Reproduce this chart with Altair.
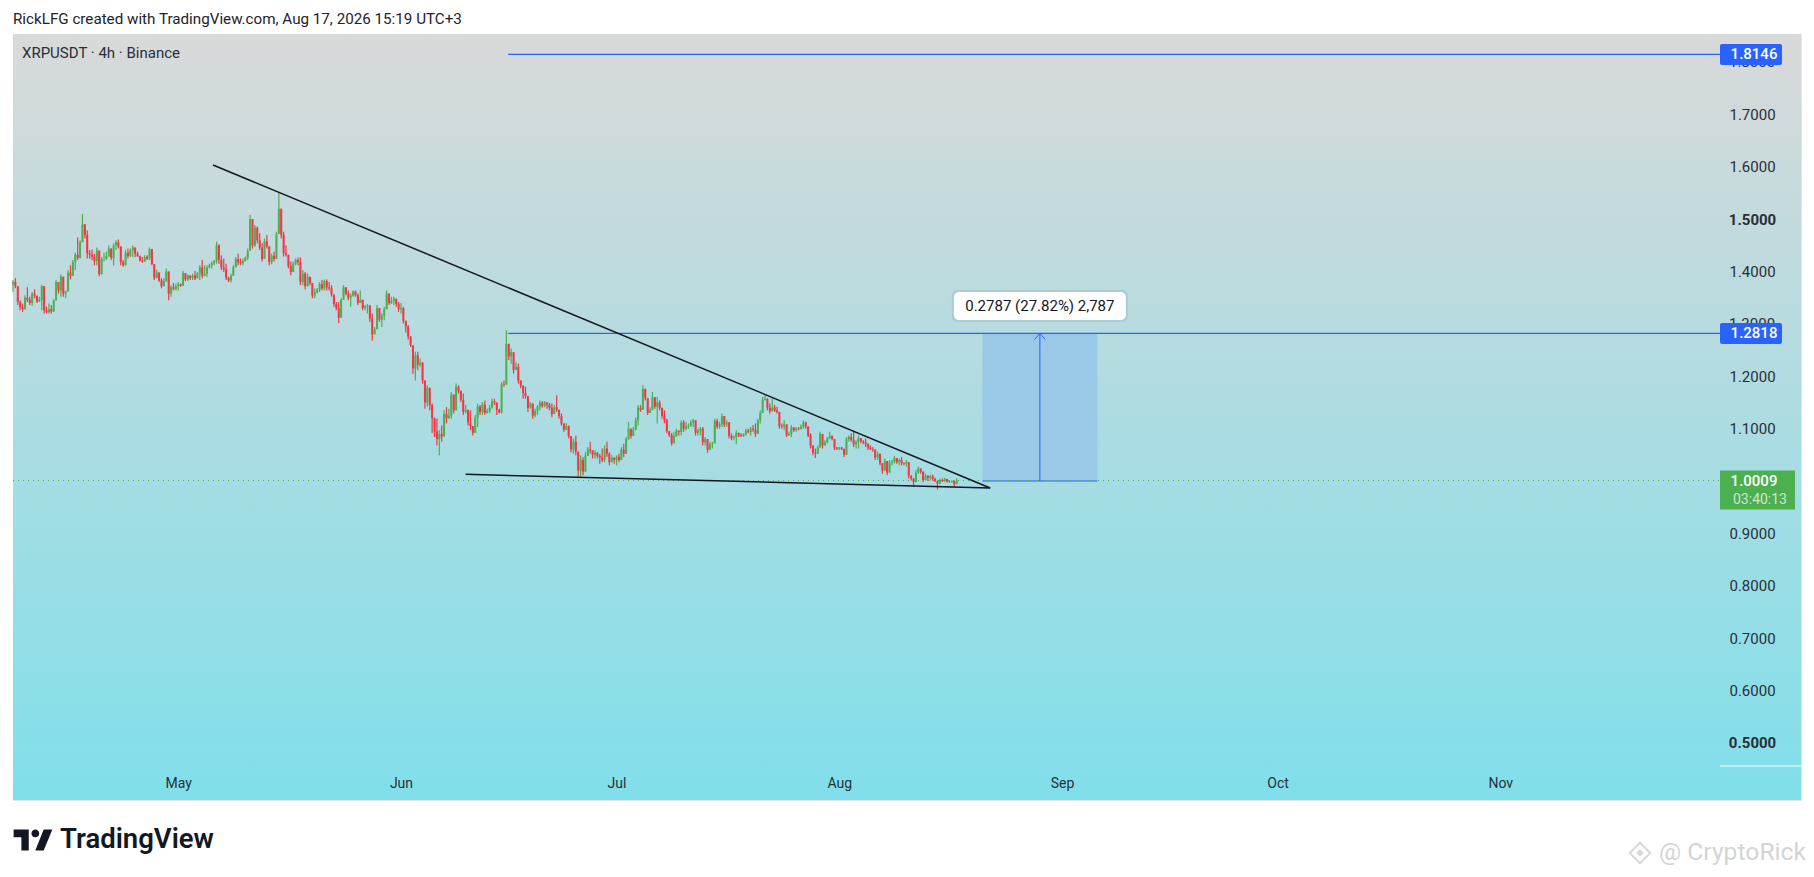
import altair as alt
import pandas as pd

closes = [
1380,1372,1342,1332,1328,1350,1346,1340,1358,1354,
1343,1346,1372,1326,1322,1328,1324,1345,1380,1364,
1390,1358,1362,1398,1392,1418,1432,1426,1456,1490,
1470,1435,1432,1428,1420,1440,1395,1424,1424,1430,
1444,1426,1450,1456,1448,1418,1412,1436,1430,1440,
1446,1434,1430,1421,1419,1428,1425,1443,1414,1388,
1398,1383,1372,1382,1400,1358,1370,1367,1372,1376,
1373,1397,1385,1392,1388,1392,1387,1396,1408,1392,
1396,1408,1412,1416,1420,1450,1422,1408,1404,1388,
1383,1392,1408,1424,1418,1416,1420,1426,1440,1500,
1450,1484,1460,1446,1424,1458,1448,1418,1430,1424,
1472,1520,1470,1435,1432,1410,1399,1415,1422,1418,
1380,1396,1372,1390,1378,1354,1360,1365,1376,1368,
1382,1370,1368,1356,1338,1330,1312,1346,1370,1358,
1350,1354,1362,1355,1340,1346,1330,1334,1335,1310,
1280,1290,1330,1308,1316,1328,1358,1340,1344,1348,
1338,1328,1330,1306,1295,1276,1259,1215,1240,1222,
1226,1192,1150,1178,1145,1120,1095,1080,1090,1085,
1128,1120,1125,1165,1135,1180,1172,1155,1132,1136,
1112,1105,1092,1120,1142,1132,1146,1130,1133,1140,
1152,1150,1136,1131,1185,1184,1262,1238,1246,1212,
1218,1192,1182,1168,1162,1140,1148,1125,1134,1142,
1150,1143,1150,1146,1140,1128,1141,1136,1124,1110,
1098,1105,1086,1060,1075,1056,1020,1040,1018,1048,
1060,1058,1050,1054,1048,1045,1040,1062,1052,1036,
1044,1040,1046,1040,1060,1052,1080,1100,1086,1098,
1116,1140,1136,1176,1158,1130,1136,1160,1142,1150,
1140,1124,1116,1095,1088,1072,1086,1096,1094,1112,
1100,1104,1106,1112,1116,1092,1096,1100,1074,1080,
1060,1070,1072,1115,1104,1108,1124,1108,1112,1086,
1082,1084,1092,1087,1086,1089,1096,1094,1100,1098,
1090,1116,1130,1155,1157,1140,1133,1140,1135,1132,
1105,1104,1108,1087,1090,1102,1097,1100,1099,1104,
1112,1104,1087,1068,1054,1052,1064,1090,1068,1074,
1081,1086,1080,1064,1062,1064,1061,1050,1080,1084,
1078,1070,1075,1082,1076,1074,1070,1064,1061,1060,
1045,1052,1034,1020,1038,1016,1035,1037,1044,1036,
1040,1034,1033,1036,1010,1005,998,1016,1024,1018,
1002,1010,1006,1009,1004,1000,995,1002,1000,1004,
999,998,1000,994,1001]

highs = [
1384,1387,1364,1345,1339,1355,1370,1352,1361,1366,
1348,1352,1375,1333,1333,1339,1336,1347,1384,1377,
1395,1366,1364,1403,1412,1422,1436,1465,1460,1510,
1491,1479,1441,1442,1434,1446,1415,1428,1436,1438,
1450,1444,1454,1460,1461,1431,1422,1441,1444,1444,
1450,1441,1438,1429,1428,1431,1431,1446,1419,1412,
1403,1396,1387,1387,1406,1393,1374,1378,1377,1380,
1377,1401,1393,1395,1393,1396,1401,1399,1412,1422,
1412,1412,1415,1419,1422,1457,1452,1431,1425,1415,
1390,1396,1412,1428,1434,1425,1425,1429,1444,1508,
1463,1489,1486,1473,1454,1463,1470,1447,1434,1438,
1476,1552,1517,1476,1450,1428,1419,1419,1425,1427,
1427,1403,1399,1396,1390,1374,1368,1368,1380,1384,
1385,1385,1380,1374,1352,1342,1342,1349,1374,1364,
1364,1358,1364,1364,1358,1364,1339,1336,1338,1336,
1320,1294,1336,1323,1320,1333,1364,1352,1352,1352,
1345,1342,1340,1333,1305,1298,1269,1250,1247,1247,
1234,1227,1186,1183,1177,1148,1121,1119,1097,1106,
1135,1141,1138,1170,1161,1186,1183,1173,1167,1145,
1122,1135,1103,1126,1148,1145,1151,1154,1138,1145,
1157,1157,1148,1138,1189,1192,1288,1259,1253,1227,
1227,1224,1192,1183,1180,1161,1151,1141,1138,1145,
1154,1153,1153,1151,1149,1148,1145,1164,1135,1129,
1110,1111,1106,1084,1081,1087,1049,1049,1046,1055,
1065,1075,1059,1059,1055,1052,1062,1068,1075,1055,
1049,1046,1049,1052,1065,1071,1084,1113,1097,1103,
1122,1145,1145,1183,1170,1141,1141,1170,1157,1161,
1154,1135,1135,1119,1094,1091,1094,1100,1097,1116,
1116,1113,1110,1116,1119,1103,1100,1103,1103,1084,
1075,1075,1075,1119,1119,1113,1129,1119,1116,1110,
1091,1087,1097,1091,1091,1091,1100,1100,1103,1107,
1110,1119,1135,1161,1164,1158,1148,1158,1145,1142,
1132,1110,1116,1100,1094,1107,1103,1103,1103,1108,
1116,1113,1094,1091,1062,1062,1068,1094,1081,1078,
1084,1094,1087,1078,1065,1065,1065,1062,1084,1087,
1091,1094,1078,1087,1081,1078,1081,1072,1068,1065,
1056,1056,1040,1033,1043,1030,1040,1040,1048,1043,
1043,1046,1036,1040,1024,1011,1005,1021,1027,1024,
1014,1014,1011,1012,1012,1006,1001,1005,1005,1006,
1001,1001,1001,1001,1005]

lows = [
1361,1368,1336,1326,1323,1333,1342,1336,1334,1349,
1340,1342,1326,1320,1320,1320,1320,1323,1345,1358,
1352,1352,1349,1364,1385,1395,1403,1422,1425,1460,
1463,1425,1425,1422,1412,1412,1391,1396,1419,1422,
1428,1422,1412,1441,1444,1412,1409,1412,1425,1428,
1428,1428,1428,1419,1417,1419,1422,1422,1412,1384,
1387,1380,1368,1377,1380,1345,1352,1364,1364,1364,
1371,1377,1382,1382,1384,1384,1384,1387,1384,1387,
1391,1390,1406,1406,1412,1415,1415,1403,1399,1384,
1380,1379,1393,1409,1412,1412,1412,1419,1422,1441,
1444,1447,1454,1441,1419,1435,1444,1412,1414,1419,
1431,1482,1463,1429,1429,1406,1393,1409,1412,1412,
1374,1374,1366,1377,1374,1349,1349,1358,1361,1364,
1364,1364,1364,1352,1333,1326,1302,1326,1349,1355,
1345,1333,1352,1352,1336,1342,1326,1326,1320,1304,
1268,1285,1304,1304,1294,1307,1336,1336,1338,1336,
1333,1323,1320,1301,1283,1270,1256,1205,1192,1212,
1218,1186,1138,1142,1135,1091,1084,1068,1049,1075,
1100,1110,1119,1119,1129,1157,1167,1151,1126,1129,
1106,1097,1087,1110,1103,1126,1126,1126,1129,1130,
1138,1145,1126,1129,1129,1180,1189,1231,1224,1205,
1212,1186,1177,1157,1157,1132,1138,1119,1122,1126,
1135,1140,1141,1138,1135,1122,1132,1132,1119,1106,
1094,1097,1081,1055,1052,1049,1008,1008,1011,1040,
1049,1052,1043,1043,1043,1033,1036,1036,1046,1030,
1036,1033,1030,1036,1046,1046,1062,1078,1081,1091,
1097,1106,1132,1145,1154,1126,1132,1135,1138,1110,
1135,1119,1110,1091,1084,1068,1081,1084,1087,1087,
1094,1097,1100,1103,1103,1087,1087,1087,1068,1068,
1054,1059,1062,1075,1100,1100,1103,1103,1103,1081,
1078,1078,1070,1084,1084,1084,1087,1091,1087,1094,
1084,1110,1110,1135,1154,1135,1129,1135,1132,1129,
1100,1100,1097,1084,1087,1084,1094,1094,1097,1100,
1100,1100,1084,1062,1049,1044,1056,1065,1062,1068,
1072,1081,1078,1059,1059,1059,1059,1046,1065,1075,
1075,1065,1062,1062,1072,1070,1065,1059,1059,1056,
1040,1040,1030,1014,1021,1011,1021,1030,1033,1033,
1030,1030,1030,1027,1005,1001,989,1001,1014,1014,
998,1001,1000,1001,1001,998,984,998,998,998,
997,997,997,989,995]

first_open = 1376
price_ticks = [1.7, 1.6, 1.5, 1.4, 1.2, 1.1, 0.9, 0.8, 0.7, 0.6, 0.5]
hidden_ticks = [1.8, 1.3]
month_ticks = ["2026-05-01", "2026-06-01", "2026-07-01", "2026-08-01", "2026-09-01", "2026-10-01", "2026-11-01"]

FONT = "Roboto"
GREEN, RED, BLUE, INK = "#4caf50", "#f23645", "#2962ff", "#131722"
W, H = 1788, 766


def ms(s):
    return int(pd.Timestamp(s, tz="UTC").timestamp() * 1000)


n = min(len(closes), len(highs), len(lows))
opens = [first_open] + closes[:n - 1]
bars = pd.DataFrame({
    "t": pd.date_range("2026-04-08", periods=n, freq="8h").strftime("%Y-%m-%dT%H:%M:%SZ"),
    "open": [v / 1000 for v in opens],
    "close": [v / 1000 for v in closes[:n]],
    "high": [max(a, b, c) / 1000 for a, b, c in zip(highs, opens, closes)],
    "low": [min(a, b, c) / 1000 for a, b, c in zip(lows, opens, closes)],
})
bars["dir"] = ["up" if c >= o else "down" for c, o in zip(bars["close"], bars["open"])]

xscale = alt.Scale(type="utc", domain=[ms("2026-04-08T00:00:00"), ms("2026-12-12T20:24:00")], padding=0)
yscale = alt.Scale(domain=[0.3908, 1.8537], nice=False, zero=False, padding=0)
xaxis = alt.Axis(
    orient="bottom", offset=-34, values=[ms(m) for m in month_ticks], format="%b", title=None,
    domain=False, ticks=False, grid=False, labelPadding=10, labelFontSize=14, labelFont=FONT,
    labelColor="#2a2e39", labelOverlap=False, labelFlush=False, zindex=1)
yaxis = alt.Axis(
    orient="right", offset=-81, values=price_ticks, format=".4f", title=None, domain=False, ticks=False,
    grid=False, labelAlign="center", labelPadding=32, labelFontSize=15, labelFont=FONT,
    labelColor="#2a2e39", labelOverlap=False, labelFlush=False, zindex=1,
    labelFontWeight={"condition": {"test": "datum.value == 1.5 || datum.value == 0.5", "value": 700}, "value": 400})
X = alt.X("t:T", scale=xscale, axis=xaxis)
Y = alt.Y("y:Q", scale=yscale, axis=yaxis)
cscale = alt.Scale(domain=["up", "down"], range=[GREEN, RED])


def txt(text, px, py, size=14, color=INK, align="left", weight="normal", **kw):
    return alt.Chart(pd.DataFrame({"s": [text]})).mark_text(
        font=FONT, fontSize=size, color=color, align=align, baseline="middle", fontWeight=weight, **kw
    ).encode(text="s:N", x=alt.value(px), y=alt.value(py))


background = alt.Chart(pd.DataFrame({"a": [0]})).mark_rect(
    fill=alt.Gradient(gradient="linear", x1=0, x2=0, y1=0, y2=1,
                      stops=[alt.GradientStop(offset=0, color="#d9d9d9"),
                             alt.GradientStop(offset=1, color="#80dfea")])
).encode(x=alt.value(0), x2=alt.value(W), y=alt.value(0), y2=alt.value(H))

hidden = alt.Chart(pd.DataFrame({"y": hidden_ticks, "s": ["1.8000", "1.3000"]})).mark_text(
    font=FONT, fontSize=15, color="#2a2e39", align="center", baseline="middle"
).encode(text="s:N", x=alt.value(1739), y=Y)

# box and its arrow
box = alt.Chart(pd.DataFrame({"t": ["2026-08-20T22:00:00Z"], "t2": ["2026-09-05T22:00:00Z"],
                              "y": [1.2818], "y2": [1.0]})).mark_rect(fill="#99c9e6").encode(
    x=X, x2="t2:T", y=Y, y2="y2:Q")
rules = alt.Chart(pd.DataFrame({
    "t": ["2026-06-15T22:00:00Z", "2026-06-15T22:00:00Z", "2026-08-20T22:00:00Z"],
    "t2": ["2026-12-01T14:00:00Z", "2026-12-01T14:00:00Z", "2026-09-05T22:00:00Z"],
    "y": [1.8146, 1.2818, 1.0]})).mark_rule(color=BLUE, strokeWidth=1.2).encode(x=X, x2="t2:T", y=Y)
stem = alt.Chart(pd.DataFrame({"t": ["2026-08-28T22:00:00Z"], "y": [1.0], "y2": [1.2818]})).mark_rule(
    color=BLUE, strokeWidth=1).encode(x=X, y=Y, y2="y2:Q")
head = alt.Chart(pd.DataFrame({"t": ["2026-08-28T04:00:00Z", "2026-08-28T22:00:00Z", "2026-08-29T16:00:00Z"],
                               "y": [1.2702, 1.2818, 1.2702], "o": [0, 1, 2]})).mark_line(
    color=BLUE, strokeWidth=1).encode(x=X, y=Y, order="o:Q")

last_line = alt.Chart(pd.DataFrame({"y": [1.0009]})).mark_rule(
    color=GREEN, strokeWidth=1, strokeDash=[1, 4]).encode(y=Y, x=alt.value(0), x2=alt.value(1707))

wicks = alt.Chart(bars).mark_rule(strokeWidth=1.2).encode(
    x=X, y=alt.Y("low:Q", scale=yscale, axis=yaxis), y2="high:Q",
    color=alt.Color("dir:N", scale=cscale, legend=None))
bodies = alt.Chart(bars).mark_bar(width=2).encode(
    x=X, y=alt.Y("open:Q", scale=yscale, axis=yaxis), y2="close:Q",
    color=alt.Color("dir:N", scale=cscale, legend=None))

upper = alt.Chart(pd.DataFrame({"t": ["2026-05-05T20:00:00Z", "2026-08-22T00:00:00Z"], "y": [1.6035, 0.9866]})).mark_line(
    color=INK, strokeWidth=1.5).encode(x=X, y=Y)
lower = alt.Chart(pd.DataFrame({"t": ["2026-06-10T00:00:00Z", "2026-08-22T00:00:00Z"], "y": [1.0128, 0.9866]})).mark_line(
    color=INK, strokeWidth=1.5).encode(x=X, y=Y)

shadow = alt.Chart(pd.DataFrame({"t": ["2026-08-28T22:00:00Z"], "y": [1.3342]})).mark_rect(
    width=176, height=32, cornerRadius=6, fill="#000000", opacity=0.07).encode(x=X, y=Y)
card = alt.Chart(pd.DataFrame({"t": ["2026-08-28T22:00:00Z"], "y": [1.3342]})).mark_rect(
    width=172, height=28, cornerRadius=5, fill="#ffffff").encode(x=X, y=Y)
card_text = alt.Chart(pd.DataFrame({"t": ["2026-08-28T22:00:00Z"], "y": [1.3342], "s": ["0.2787 (27.82%) 2,787"]})).mark_text(
    font=FONT, fontSize=15, color=INK, align="center", baseline="middle").encode(x=X, y=Y, text="s:N")

tags = pd.DataFrame({"y": [1.8146, 1.2818], "s": ["1.8146", "1.2818"]})
tag_rect = alt.Chart(tags).mark_rect(width=62, height=21, cornerRadius=2, fill=BLUE).encode(
    x=alt.value(1738), y=Y)
tag_text = alt.Chart(tags).mark_text(font=FONT, fontSize=15, color="#ffffff", align="center",
                                     baseline="middle", fontWeight=500).encode(
    x=alt.value(1741), y=Y, text="s:N")
now = pd.DataFrame({"y": [1.0009], "s": ["1.0009"], "c": ["03:40:13"]})
now_rect = alt.Chart(now).mark_rect(width=75, height=39, fill=GREEN, yOffset=9.5).encode(x=alt.value(1744.5), y=Y)
now_text = alt.Chart(now).mark_text(font=FONT, fontSize=15, color="#ffffff", align="center",
                                    baseline="middle", fontWeight=500).encode(x=alt.value(1741), y=Y, text="s:N")
now_count = alt.Chart(now).mark_text(font=FONT, fontSize=14, color="#cfe6d0", align="center",
                                     baseline="middle", dy=19).encode(x=alt.value(1747), y=Y, text="c:N")

edge = alt.Chart(pd.DataFrame({"a": [0]})).mark_rule(color="#ffffff", strokeWidth=1).encode(
    x=alt.value(1707), x2=alt.value(1788), y=alt.value(732))

LOGO = ("M-1,-0.54 H-0.22 V0.54 H-0.6 V-0.14 H-1 Z "
        "M0.12,-0.54 A0.2,0.2 0 1 0 0.12,-0.14 A0.2,0.2 0 1 0 0.12,-0.54 Z "
        "M0.55,-0.54 H1 L0.55,0.54 H0.12 Z")
logo = alt.Chart(pd.DataFrame({"a": [0]})).mark_point(shape=LOGO, filled=True, size=1500, color=INK, opacity=1).encode(
    x=alt.value(20), y=alt.value(806))
mark_outer = alt.Chart(pd.DataFrame({"a": [0]})).mark_point(shape="diamond", filled=False, size=420, color="#d8d8d8",
                                                             strokeWidth=2, opacity=1).encode(
    x=alt.value(1627), y=alt.value(819))
mark_inner = alt.Chart(pd.DataFrame({"a": [0]})).mark_point(shape="diamond", filled=True, size=60, color="#d8d8d8", opacity=1).encode(
    x=alt.value(1627), y=alt.value(819))

chart = alt.layer(
    background, hidden, box, rules, stem, head, last_line, wicks, bodies, upper, lower,
    shadow, card, card_text, tag_rect, tag_text, now_rect, now_text, now_count, edge,
    txt("RickLFG created with TradingView.com, Aug 17, 2026 15:19 UTC+3", 0, -15, size=15.2, color="#1e222d"),
    txt("XRPUSDT · 4h · Binance", 9, 19, size=15, color="#2a2e39"),
    logo,
    txt("TradingView", 47, 806, size=27.5, weight=600, color=INK),
    mark_outer, mark_inner,
    txt("@ CryptoRick", 1646, 819, size=24.7, color="#d4d4d4"),
).properties(
    width=W, height=H, autosize="none", background="#ffffff",
    padding={"left": 5, "top": 26, "right": 5, "bottom": 66},
).configure_view(stroke="#e4e4e4", strokeWidth=1)

chart.save("out.html", embed_options={"renderer": "svg", "actions": False})
